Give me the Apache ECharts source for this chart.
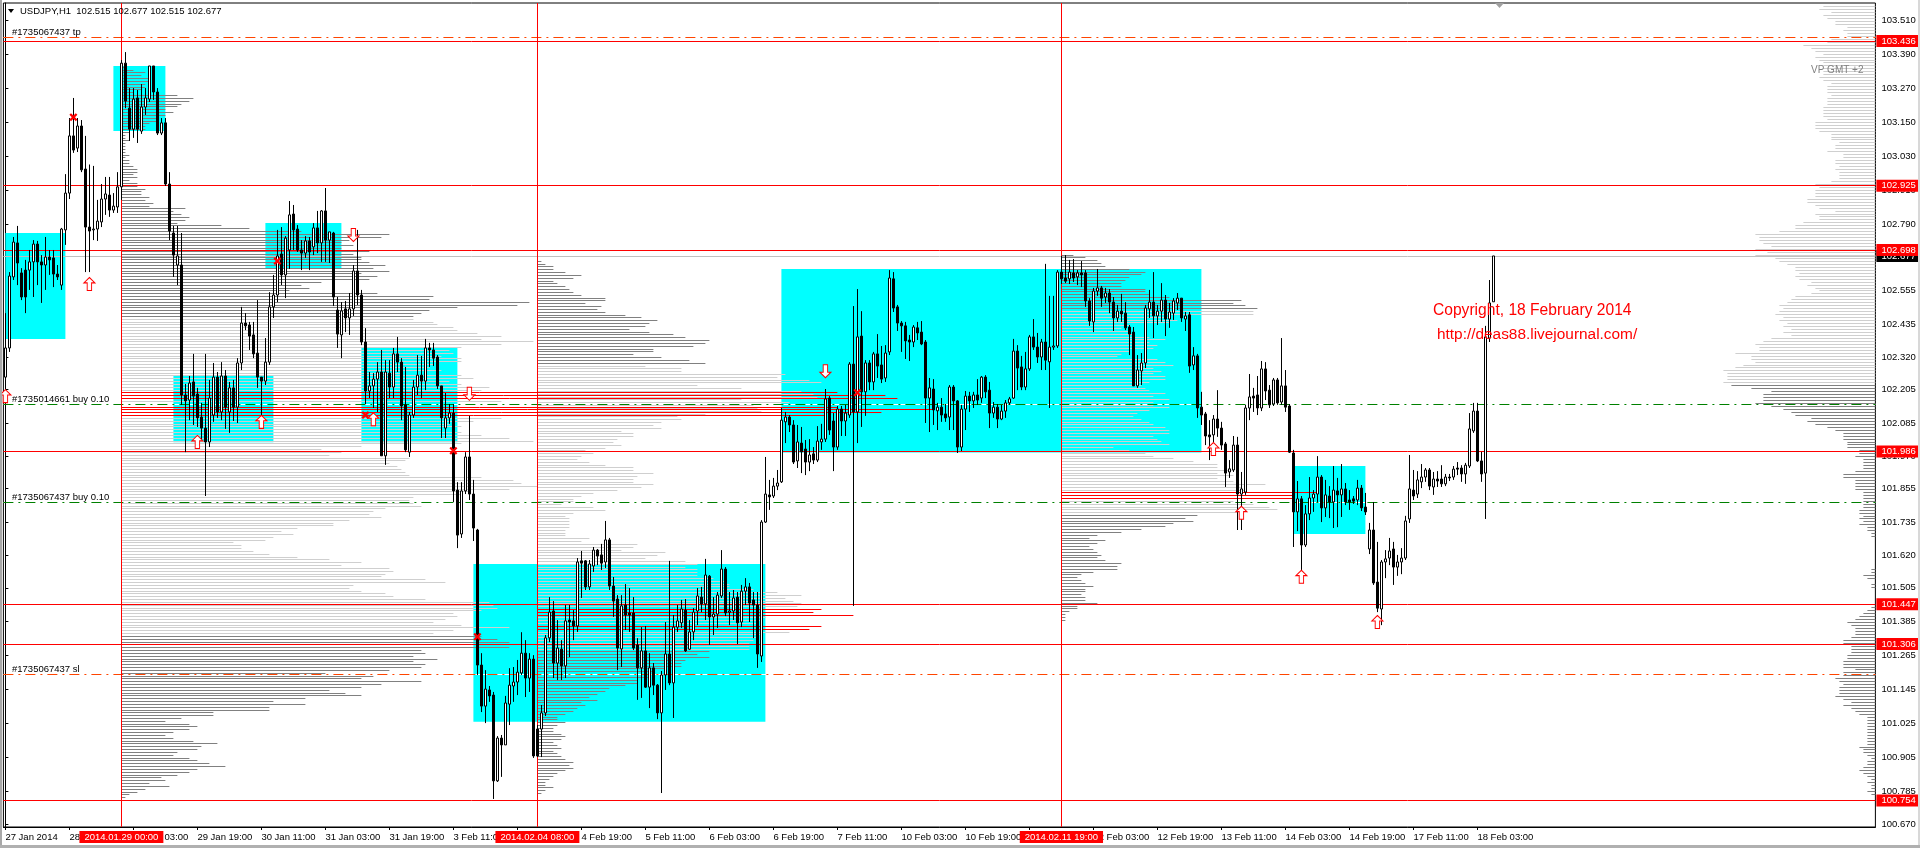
<!DOCTYPE html>
<html><head><meta charset="utf-8">
<style>html,body{margin:0;padding:0;background:#fff}#c{width:1920px;height:848px}</style>
<script src="https://cdn.jsdelivr.net/npm/echarts@6/dist/echarts.min.js"></script>
</head><body><div id="c"></div>
<script>
// Candle rows: [open, close, low, high]
const candlesA=[[102.249,102.352,102.186,102.475],[102.352,102.606,102.338,102.620],[102.603,102.726,102.592,102.744],[102.723,102.652,102.574,102.783],[102.617,102.532,102.521,102.634],[102.627,102.532,102.475,102.663],[102.627,102.656,102.557,102.698],[102.656,102.719,102.532,102.733],[102.719,102.656,102.574,102.730],[102.656,102.645,102.511,102.680],
[102.645,102.673,102.557,102.744],[102.673,102.663,102.610,102.698],[102.670,102.613,102.567,102.698],[102.613,102.603,102.592,102.645],[102.574,102.772,102.557,102.776],[102.769,102.899,102.716,102.966],[102.899,103.101,102.878,103.164],[103.101,103.051,103.041,103.235],[103.058,103.136,103.044,103.164],[103.136,102.981,102.973,103.157],
[102.984,102.779,102.620,103.101],[102.779,102.765,102.620,103.000],[102.769,102.772,102.733,102.995],[102.772,102.800,102.730,102.875],[102.797,102.878,102.779,102.931],[102.878,102.896,102.822,102.956],[102.892,102.839,102.815,102.956],[102.839,102.853,102.829,102.899],[102.850,102.921,102.829,102.973],[102.921,103.358,102.875,103.369],
[103.358,103.224,103.199,103.397],[103.199,103.125,103.083,103.270],[103.125,103.231,103.094,103.270],[103.235,103.125,103.076,103.263],[103.118,103.203,103.108,103.284],[103.203,103.235,103.175,103.270],[103.231,103.348,103.221,103.348],[103.348,103.256,103.228,103.348],[103.256,103.111,103.104,103.270],[103.111,103.147,103.104,103.164],
[103.147,102.931,102.924,103.164],[102.931,102.765,102.733,102.973],[102.758,102.680,102.603,102.783],[102.645,102.677,102.574,102.783],[102.645,102.186,102.151,102.758],[102.186,102.165,101.984,102.225],[102.168,102.228,102.097,102.253],[102.232,102.182,102.080,102.331],[102.189,102.105,102.073,102.211],[102.108,102.069,102.027,102.158]];
const candlesB=[[102.069,102.020,101.829,102.331],[102.020,102.175,102.002,102.239],[102.115,102.249,102.091,102.299],[102.249,102.126,102.105,102.267],[102.126,102.253,102.097,102.302],[102.253,102.143,102.066,102.274],[102.126,102.211,102.052,102.232],[102.211,102.143,102.094,102.239],[102.143,102.299,102.087,102.316],[102.299,102.440,102.274,102.497],
[102.440,102.430,102.415,102.475],[102.433,102.394,102.345,102.444],[102.398,102.331,102.316,102.444],[102.334,102.249,102.211,102.521],[102.249,102.235,102.115,102.249],[102.235,102.302,102.221,102.387],[102.302,102.497,102.292,102.549],[102.497,102.539,102.458,102.610],[102.539,102.677,102.514,102.769],[102.684,102.610,102.574,102.779],
[102.610,102.740,102.528,102.747],[102.698,102.822,102.631,102.871],[102.825,102.769,102.698,102.857],[102.772,102.698,102.691,102.786],[102.698,102.687,102.627,102.733],[102.687,102.730,102.670,102.747],[102.730,102.691,102.627,102.744],[102.709,102.776,102.680,102.793],[102.776,102.723,102.687,102.836],[102.723,102.836,102.656,102.839],
[102.836,102.733,102.656,102.917],[102.733,102.762,102.652,102.762],[102.758,102.532,102.500,102.762],[102.486,102.401,102.352,102.532],[102.398,102.483,102.316,102.514],[102.490,102.458,102.408,102.518],[102.458,102.490,102.398,102.546],[102.490,102.624,102.465,102.645],[102.624,102.539,102.504,102.769],[102.539,102.373,102.362,102.557],
[102.373,102.200,102.154,102.422],[102.200,102.218,102.175,102.267],[102.218,102.242,102.140,102.263],[102.242,102.267,102.126,102.302],[102.267,101.971,101.971,102.345],[101.971,102.267,101.939,102.309],[102.263,102.214,102.175,102.309],[102.214,102.331,102.175,102.352],[102.331,102.302,102.267,102.391],[102.302,102.147,102.097,102.316]];
const candlesC=[[102.151,101.992,101.984,102.285],[101.984,102.115,101.967,102.126],[102.115,102.214,102.105,102.239],[102.214,102.256,102.186,102.327],[102.256,102.235,102.175,102.324],[102.235,102.352,102.203,102.384],[102.352,102.345,102.285,102.370],[102.345,102.316,102.288,102.370],[102.320,102.218,102.207,102.327],[102.218,102.105,102.034,102.218],
[102.069,102.105,102.034,102.193],[102.105,102.122,102.084,102.154],[102.122,101.847,101.808,102.154],[101.850,101.691,101.645,101.878],[101.695,101.847,101.681,101.878],[101.847,101.967,101.836,101.984],[101.967,101.836,101.815,102.112],[101.836,101.716,101.670,101.886],[101.709,101.232,101.197,101.713],[101.232,101.087,101.066,101.274],
[101.087,101.147,101.027,101.214],[101.144,101.123,101.102,101.158],[101.126,100.823,100.759,101.137],[100.823,100.974,100.819,100.981],[100.974,100.950,100.837,100.985],[100.950,101.098,100.950,101.123],[101.094,101.161,101.020,101.221],[101.158,101.172,101.102,101.225],[101.172,101.207,101.126,101.250],[101.204,101.274,101.197,101.348],
[101.274,101.186,101.119,101.320],[101.186,101.253,101.137,101.274],[101.253,100.911,100.904,101.267],[101.006,100.911,100.907,101.020],[101.006,101.063,100.907,101.091],[101.063,101.328,101.052,101.338],[101.328,101.419,101.313,101.472],[101.423,101.239,101.186,101.458],[101.239,101.292,101.179,101.391],[101.288,101.229,101.179,101.320],
[101.229,101.388,101.186,101.444],[101.391,101.384,101.260,101.444],[101.388,101.370,101.320,101.426],[101.370,101.596,101.349,101.610],[101.600,101.592,101.469,101.635],[101.600,101.508,101.497,101.603],[101.508,101.589,101.497,101.603],[101.582,101.638,101.561,101.649],[101.638,101.617,101.585,101.642],[101.621,101.592,101.568,101.660]];
const candlesD=[[101.596,101.674,101.575,101.741],[101.674,101.511,101.497,101.681],[101.511,101.458,101.402,101.543],[101.465,101.292,101.214,101.479],[101.289,101.441,101.225,101.479],[101.444,101.409,101.356,101.518],[101.416,101.409,101.349,101.504],[101.416,101.292,101.285,101.472],[101.303,101.222,101.109,101.327],[101.222,101.282,101.116,101.366],
[101.282,101.154,101.151,101.370],[101.154,101.222,101.080,101.274],[101.222,101.161,101.126,101.239],[101.161,101.063,101.041,101.165],[101.063,101.197,100.780,101.211],[101.197,101.271,101.144,101.384],[101.271,101.169,101.161,101.600],[101.169,101.366,101.045,101.409],[101.366,101.388,101.349,101.444],[101.381,101.430,101.363,101.462],
[101.426,101.282,101.278,101.465],[101.288,101.349,101.285,101.391],[101.349,101.419,101.320,101.433],[101.423,101.476,101.373,101.504],[101.472,101.448,101.419,101.508],[101.448,101.550,101.391,101.607],[101.546,101.402,101.303,101.550],[101.402,101.412,101.338,101.472],[101.412,101.479,101.363,101.490],[101.476,101.571,101.469,101.638],
[101.571,101.416,101.405,101.578],[101.419,101.423,101.373,101.490],[101.423,101.469,101.391,101.497],[101.472,101.381,101.306,101.490],[101.384,101.493,101.366,101.515],[101.493,101.508,101.444,101.539],[101.508,101.451,101.384,101.522],[101.462,101.444,101.327,101.490],[101.444,101.271,101.222,101.490],[101.264,101.737,101.243,101.744],
[101.737,101.836,101.734,101.967],[101.833,101.826,101.780,101.886],[101.829,101.864,101.822,101.893],[101.864,101.875,101.850,101.921],[101.879,102.097,101.875,102.140],[102.091,102.108,102.016,102.126],[102.108,102.080,102.055,102.115],[102.080,101.949,101.942,102.097],[101.953,102.020,101.928,102.080],[102.016,101.985,101.910,102.073]];
const candlesE=[[101.995,101.949,101.903,102.027],[101.949,101.974,101.917,102.030],[101.978,101.956,101.942,102.002],[101.956,102.023,101.949,102.076],[102.020,102.030,101.992,102.084],[102.030,102.172,102.020,102.207],[102.175,102.062,102.045,102.182],[102.094,102.002,101.917,102.122],[102.002,102.136,101.992,102.147],[102.136,102.094,102.041,102.147],
[102.094,102.122,102.041,102.151],[102.115,102.295,102.105,102.302],[102.295,102.126,101.441,102.500],[102.126,102.391,102.016,102.560],[102.394,102.197,102.073,102.482],[102.197,102.299,102.112,102.309],[102.299,102.232,102.203,102.309],[102.232,102.331,102.203,102.338],[102.331,102.288,102.246,102.401],[102.292,102.242,102.228,102.359],
[102.246,102.334,102.232,102.362],[102.338,102.599,102.327,102.627],[102.596,102.493,102.479,102.620],[102.497,102.440,102.412,102.504],[102.440,102.430,102.338,102.447],[102.430,102.377,102.313,102.444],[102.380,102.373,102.306,102.398],[102.373,102.426,102.355,102.433],[102.423,102.405,102.380,102.444],[102.408,102.366,102.362,102.447],
[102.373,102.175,102.087,102.380],[102.175,102.211,102.055,102.246],[102.207,102.133,102.080,102.242],[102.130,102.143,102.062,102.158],[102.143,102.115,102.091,102.175],[102.119,102.105,102.091,102.154],[102.108,102.214,102.062,102.221],[102.214,102.165,102.062,102.221],[102.165,102.002,101.981,102.168],[102.002,102.136,101.988,102.151],
[102.136,102.182,102.062,102.200],[102.182,102.165,102.126,102.197],[102.165,102.186,102.140,102.197],[102.186,102.168,102.151,102.242],[102.175,102.249,102.158,102.253],[102.249,102.197,102.175,102.256],[102.203,102.122,102.069,102.232],[102.122,102.143,102.105,102.161],[102.143,102.101,102.069,102.154],[102.101,102.129,102.097,102.151]];
const candlesF=[[102.129,102.158,102.105,102.168],[102.158,102.172,102.151,102.179],[102.175,102.341,102.172,102.384],[102.341,102.281,102.203,102.362],[102.285,102.214,102.203,102.324],[102.214,102.278,102.203,102.338],[102.278,102.391,102.271,102.398],[102.391,102.355,102.345,102.454],[102.355,102.320,102.299,102.405],[102.320,102.373,102.274,102.384],
[102.373,102.309,102.274,102.649],[102.303,102.355,102.140,102.536],[102.355,102.359,102.345,102.536],[102.359,102.620,102.352,102.627],[102.620,102.596,102.578,102.677],[102.599,102.588,102.581,102.680],[102.596,102.620,102.578,102.663],[102.617,102.599,102.585,102.666],[102.603,102.617,102.574,102.627],[102.617,102.610,102.567,102.659],
[102.617,102.518,102.497,102.627],[102.518,102.447,102.430,102.528],[102.444,102.553,102.408,102.564],[102.553,102.564,102.536,102.631],[102.564,102.528,102.497,102.571],[102.532,102.546,102.511,102.564],[102.546,102.514,102.475,102.560],[102.514,102.458,102.412,102.532],[102.458,102.482,102.444,102.504],[102.482,102.472,102.444,102.543],
[102.475,102.423,102.415,102.514],[102.426,102.401,102.327,102.433],[102.408,102.218,102.218,102.426],[102.218,102.274,102.211,102.327],[102.271,102.299,102.221,102.334],[102.299,102.493,102.281,102.504],[102.490,102.514,102.458,102.557],[102.514,102.465,102.387,102.620],[102.465,102.482,102.433,102.504],[102.482,102.521,102.444,102.581],
[102.521,102.454,102.394,102.539],[102.454,102.479,102.423,102.511],[102.475,102.518,102.451,102.528],[102.511,102.528,102.486,102.546],[102.528,102.458,102.444,102.528],[102.454,102.465,102.412,102.479],[102.469,102.288,102.264,102.479],[102.292,102.324,102.274,102.355],[102.324,102.140,102.105,102.331],[102.143,102.115,102.080,102.197]];
const candlesG=[[102.119,102.041,102.009,102.126],[102.045,102.038,101.956,102.097],[102.045,102.101,102.009,102.115],[102.101,102.069,102.038,102.203],[102.069,102.009,101.992,102.091],[102.013,101.910,101.861,102.020],[101.914,101.925,101.893,101.956],[101.921,102.009,101.914,102.041],[102.009,101.836,101.709,102.038],[101.836,101.854,101.709,101.914],
[101.843,102.140,101.833,102.151],[102.140,102.179,102.097,102.260],[102.182,102.175,102.126,102.211],[102.186,102.140,102.115,102.253],[102.140,102.278,102.129,102.306],[102.278,102.200,102.168,102.302],[102.203,102.151,102.140,102.221],[102.154,102.239,102.147,102.246],[102.239,102.158,102.151,102.246],[102.161,102.218,102.151,102.387],
[102.218,102.143,102.126,102.274],[102.147,101.984,101.981,102.154],[101.981,101.773,101.649,101.992],[101.773,101.819,101.705,101.882],[101.819,101.656,101.557,101.829],[101.656,101.766,101.649,101.797],[101.766,101.822,101.744,101.896],[101.822,101.836,101.773,101.850],[101.836,101.896,101.808,101.970],[101.896,101.787,101.737,101.903],
[101.787,101.833,101.755,101.886],[101.829,101.808,101.751,101.864],[101.808,101.850,101.716,101.935],[101.847,101.833,101.719,101.893],[101.833,101.854,101.755,101.942],[101.854,101.808,101.797,101.875],[101.815,101.808,101.780,101.850],[101.819,101.811,101.801,101.829],[101.815,101.857,101.797,101.886],[101.857,101.787,101.776,101.868],
[101.790,101.773,101.762,101.840],[101.642,101.709,101.624,101.734],[101.709,101.522,101.515,101.808],[101.525,101.433,101.419,101.667],[101.430,101.596,101.373,101.603],[101.596,101.607,101.539,101.638],[101.610,101.635,101.585,101.681],[101.642,101.578,101.515,101.667],[101.578,101.596,101.547,101.621],[101.596,101.610,101.553,101.645]];
const candlesH=[[101.610,101.741,101.603,101.759],[101.748,101.854,101.734,101.974],[101.850,101.829,101.815,101.921],[101.836,101.886,101.822,101.917],[101.879,101.896,101.857,101.942],[101.896,101.921,101.879,101.928],[101.921,101.864,101.850,101.928],[101.861,101.889,101.833,101.914],[101.889,101.882,101.861,101.917],[101.889,101.872,101.861,101.938],
[101.872,101.896,101.864,101.907],[101.896,101.893,101.882,101.907],[101.896,101.924,101.886,101.935],[101.928,101.924,101.903,101.949],[101.928,101.907,101.879,101.938],[101.907,101.938,101.872,101.946],[101.935,102.066,101.928,102.122],[102.059,102.129,102.052,102.158],[102.129,101.953,101.949,102.158],[101.953,101.907,101.879,101.985],
[101.910,102.391,101.748,102.430],[102.387,102.511,102.373,102.592],[102.515,102.677,102.515,102.677]];

// Time labels every 16 bars
const timeLabels=['27 Jan 2014','28 Jan 11:00','29 Jan 03:00','29 Jan 19:00','30 Jan 11:00','31 Jan 03:00','31 Jan 19:00','3 Feb 11:00','4 Feb 03:00','4 Feb 19:00','5 Feb 11:00','6 Feb 03:00','6 Feb 19:00','7 Feb 11:00','10 Feb 03:00','10 Feb 19:00','11 Feb 11:00','12 Feb 03:00','12 Feb 19:00','13 Feb 11:00','14 Feb 03:00','14 Feb 19:00','17 Feb 11:00','18 Feb 03:00'];
const priceTicks=[103.51,103.39,103.27,103.15,103.03,102.91,102.79,102.67,102.555,102.435,102.32,102.205,102.085,101.97,101.855,101.735,101.62,101.505,101.385,101.265,101.145,101.025,100.905,100.785,100.67];
const priceMax=103.5704, priceMin=100.660;
const barSlots=468, tickEvery=16, lastTickBar=368;

const redLevels=[103.436,102.925,102.698,101.986,101.447,101.306,100.754];
const currentPrice=102.677;
const sessionBars=[29,133,264];
const sessionLabels=['2014.01.29 00:00','2014.02.04 08:00','2014.02.11 19:00'];
const orderTP=[103.449], orderSL=[101.199], orderBuy=[102.153,101.807];

// Rectangles: [barStart, barEnd, priceHigh, priceLow]
const zones=[[0,15,102.758,102.384],[27,40,103.348,103.118],[65,84,102.793,102.631],[42,67,102.256,102.019],[89,113,102.352,102.019],[117,190,101.589,101.032],[194,299,102.631,101.983],[322,340,101.935,101.695]];

// Markers: [bar, price]
const arrowsUp=[[21,102.578],[0,102.182],[48,102.020],[64,102.091],[92,102.100],[302,101.995],[309,101.770],[324,101.544],[343,101.384]];
const arrowsDown=[[87,102.751],[116,102.190],[205,102.270]];
const crosses=[[17,103.167],[68,102.659],[90,102.115],[112,101.989],[118,101.332],[213,102.194]];

// Volume profiles: counts per price row, top row first
const profile1Anchor=29, profile1Top=103.345, profile1VA=[102.458,101.338], profile1Poc=[115,116,117,120,121,122,123];
const profile1=[1,3,6,5,7,7,6,6,5,3,14,18,17,15,14,11,13,11,9,9,7,6,6,2,1,1,2,1,1,1,1,2,1,2,2,3,4,4,3,4,2,4,4,6,5,5,7,6,8,7,16,13,15,17,16,14,25,32,45,67,65,57,55,58,55,62,58,60,60,62,66,63,67,60,64,62,
50,45,47,42,64,78,77,102,99,84,77,75,73,73,78,79,83,84,89,95,90,103,95,85,82,83,80,85,85,78,77,80,70,85,88,82,85,92,90,179,191,194,95,100,179,203,190,176,95,88,82,85,80,85,90,97,103,85,60,50,55,52,72,71,67,69,70,71,72,90,98,100,104,97,87,85,73,72,73,75,66,63,62,65,57,53,53,44,40,43,38,36,28,30,30,33,37,44,
52,60,55,67,68,66,65,76,81,58,57,60,66,68,76,92,93,94,90,83,84,81,78,85,97,83,78,90,94,97,97,97,75,76,73,79,73,76,75,67,51,63,60,75,65,60,52,56,60,46,38,46,37,37,23,23,15,11,17,19,17,13,11,13,18,24,20,19,14,13,17,19,22,26,19,17,14,10,11,7,12,6,4,2,1];
const profile2Anchor=133, profile2Top=102.660, profile2VA=[102.295,101.285], profile2Poc=[123,124,125,129,130];
const profile2=[1,2,4,4,7,11,9,4,5,7,8,9,11,17,17,12,16,15,17,22,26,30,28,27,23,28,34,37,43,42,39,29,29,24,31,38,42,
27,36,36,62,60,68,71,40,51,66,69,70,51,63,54,55,56,42,35,36,31,29,31,21,24,24,20,19,21,17,12,14,11,10,13,17,24,24,29,25,24,24,29,26,
20,14,11,9,9,6,14,17,9,7,8,8,8,8,7,7,7,13,11,25,24,21,32,30,27,37,40,37,40,40,40,44,47,48,48,54,60,66,62,64,66,65,
71,69,79,57,56,55,71,68,63,56,55,54,53,53,53,
43,40,43,37,36,36,32,29,27,28,25,25,22,18,17,15,13,15,11,12,10,9,7,5,5,7,5,4,4,6,7,6,4,5,6,4,5,6,7,9,8,9,7,5,4,3,2,2,4,2,1];
const profile3Anchor=264, profile3Top=102.682, profile3VA=[102.486,101.767], profile3Poc=[84,85,86];
const profile3=[3,6,9,10,11,17,21,20,17,16,15,15,21,21,22,27,45,43,46,49,
48,48,27,29,27,17,15,17,18,22,26,22,24,23,17,15,14,24,26,28,23,25,23,26,26,22,20,21,22,26,23,27,23,23,27,22,19,18,20,22,23,26,27,27,23,24,25,27,13,17,21,23,28,33,39,39,43,39,43,39,43,51,45,46,
64,58,58,43,48,52,54,44,
34,31,33,28,26,20,15,9,7,11,9,7,8,9,10,9,11,15,14,14,8,5,4,5,6,8,6,6,5,6,6,9,4,4,2,1,1,1];
const profile4Top=103.559, profile4Bottom=100.777, profile4VA=[104,102.228];
const profile4=[13,14,11,13,12,10,10,7,8,7,7,11,12,18,16,15,13,15,14,13,13,13,13,13,14,13,11,12,12,12,11,12,12,12,13,13,13,13,12,15,15,15,14,11,11,11,9,10,10,12,8,8,10,10,9,10,9,9,9,11,15,14,15,15,15,17,17,15,14,10,15,14,14,18,20,20,24,30,29,29,28,26,30,27,30,25,24,22,20,20,19,20,19,16,17,15,14,16,20,21,22,24,23,24,25,23,24,22,23,21,23,21,26,28,30,29,29,35,31,31,30,33,35,38,37,37,37,38,36,31,26,28,28,28,30,26,23,21,
20,16,17,15,12,10,8,8,8,7,7,7,4,4,5,3,3,3,3,5,8,8,5,5,5,5,3,3,3,3,3,3,4,4,3,4,3,4,2,2,1,1,0,0,0,0,0,0,0,0,0,0,1,1,3,2,0,1,1,0,0,0,0,0,0,1,2,3,4,5,7,6,5,5,5,6,8,8,6,6,6,7,7,8,8,8,5,8,8,10,9,8,9,9,9,10,8,6,8,6,5,4,2,2,2,2,2,2,2,2,2,2,4,3,3,2,1,2,2,3,4,3,2,1,2,1,1,2,1];

const FONT='"Liberation Sans",Arial,sans-serif';
const GRID={left:3.4,top:3,width:1872,height:824};
const STEP=0.01;
const candles=[].concat(candlesA,candlesB,candlesC,candlesD,candlesE,candlesF,candlesG,candlesH);
const categories=Array.from({length:barSlots},(_,i)=>i%tickEvery===0&&i/tickEvery<timeLabels.length?timeLabels[i/tickEvery]:'');
const showTick=i=>i%tickEvery===0&&i<=lastTickBar;

const DARK=0,LIGHT=1,RED=2;
function profileRows(arr,anchor,top,step,va,poc,dir){
  return arr.map((n,k)=>{const p=top-k*step;
    const c=poc&&poc.indexOf(k)>=0?RED:(p<=va[0]&&p>=va[1]?LIGHT:DARK);
    return [anchor,dir*n,+p.toFixed(4),c];}).filter(r=>r[1]!==0);
}
const rows=[].concat(
  profileRows(profile1,profile1Anchor,profile1Top,STEP,profile1VA,profile1Poc,1),
  profileRows(profile2,profile2Anchor,profile2Top,STEP,profile2VA,profile2Poc,1),
  profileRows(profile3,profile3Anchor,profile3Top,STEP,profile3VA,profile3Poc,1),
  profileRows(profile4,barSlots-0.5,profile4Top,(profile4Top-profile4Bottom)/(profile4.length-1),profile4VA,null,-1)
);
const rowColor=['#808080','#cfcfcf','#ff0000'];

const axisTxt={fontFamily:FONT,fontSize:9.5,color:'#000'};
const labelBox={show:true,position:'end',distance:1,color:'#fff',backgroundColor:'#ff0000',fontFamily:FONT,fontSize:9.5,lineHeight:10,padding:[1,5,1,5],formatter:o=>Number(o.value).toFixed(3)};
const markLines=[];
orderTP.concat(orderSL,orderBuy).forEach(v=>markLines.push({yAxis:v,lineStyle:{color:'#ffffff',type:'solid',width:1},label:{show:false}}));
orderTP.concat(orderSL).forEach(v=>markLines.push({yAxis:v,lineStyle:{color:'#ff4500',type:[10,5,2,5],width:1},label:{show:false}}));
orderBuy.forEach(v=>markLines.push({yAxis:v,lineStyle:{color:'#008000',type:[10,5,2,5],width:1},label:{show:false}}));
markLines.push({yAxis:currentPrice,lineStyle:{color:'#c0c0c0',type:'solid',width:1},label:Object.assign({},labelBox,{backgroundColor:'#000'})});
redLevels.forEach(v=>markLines.push({yAxis:v,lineStyle:{color:'#ff0000',type:'solid',width:1},label:labelBox}));
sessionBars.forEach((b,i)=>markLines.push({xAxis:b,lineStyle:{color:'#ff0000',type:'solid',width:1},
  label:{show:true,position:'start',distance:4,formatter:sessionLabels[i],color:'#fff',backgroundColor:'#ff0000',fontFamily:FONT,fontSize:9.5,lineHeight:10,padding:[1,5,1,5]}}));

const txt=(x,y,s,extra)=>({type:'text',x,y,z:60,silent:true,style:Object.assign({text:s,fill:'#000',font:'9.5px '+FONT,textVerticalAlign:'middle'},extra||{})});

const chart=echarts.init(document.getElementById('c'),null,{renderer:'canvas'});
chart.setOption({
  animation:false,backgroundColor:'#ffffff',
  grid:{left:GRID.left,top:GRID.top,width:GRID.width,height:GRID.height,show:true,borderColor:'#000',borderWidth:1,backgroundColor:'transparent'},
  xAxis:[
    {type:'category',data:categories,boundaryGap:true,
     axisLine:{show:true,lineStyle:{color:'#000'}},splitLine:{show:false},
     axisTick:{show:true,alignWithLabel:true,interval:showTick,length:3,lineStyle:{color:'#000'}},
     axisLabel:Object.assign({show:true,interval:showTick,align:'left',margin:5,hideOverlap:false},axisTxt)},
    {type:'value',min:-0.5,max:barSlots-0.5,show:false,splitLine:{show:false}}
  ],
  yAxis:{type:'value',position:'right',min:priceMin,max:priceMax,scale:true,
    axisLine:{show:true,lineStyle:{color:'#000'}},splitLine:{show:false},
    axisTick:{show:true,length:3,customValues:priceTicks,lineStyle:{color:'#000'}},
    axisLabel:Object.assign({show:true,customValues:priceTicks,margin:6,formatter:v=>Number(v).toFixed(3)},axisTxt)},
  series:[
    {type:'custom',name:'Volume profile',xAxisIndex:1,yAxisIndex:0,z:2,clip:true,silent:true,data:rows,encode:{x:0,y:2},
     renderItem:(params,api)=>{
       const a=api.coord([api.value(0),api.value(2)]);
       const b=api.coord([api.value(0)+api.value(1),api.value(2)]);
       const y=Math.round(a[1])+0.5;
       return {type:'line',shape:{x1:a[0],y1:y,x2:b[0],y2:y},style:{stroke:rowColor[api.value(3)],lineWidth:1}};
     }},
    {type:'candlestick',name:'USDJPY,H1',xAxisIndex:0,yAxisIndex:0,z:10,barWidth:3,silent:true,data:candles,
     itemStyle:{color:'#ffffff',color0:'#000000',borderColor:'#000000',borderColor0:'#000000',borderColorDoji:'#000000',borderWidth:1},
     markArea:{silent:true,z:1,itemStyle:{color:'#00ffff',opacity:1},label:{show:false},
       data:zones.map(z=>[{xAxis:z[0],yAxis:z[2]},{xAxis:z[1],yAxis:z[3]}])},
     markLine:{silent:true,z:4,symbol:'none',precision:3,animation:false,data:markLines}},
    {type:'scatter',name:'Buy arrows',xAxisIndex:0,yAxisIndex:0,z:11,silent:true,data:arrowsUp,
     symbol:'path://M5 0 L10 5 L7 5 L7 12 L3 12 L3 5 L0 5 Z',symbolSize:[11,13],itemStyle:{color:'#fff',borderColor:'#ff0000',borderWidth:1,opacity:1}},
    {type:'scatter',name:'Sell arrows',xAxisIndex:0,yAxisIndex:0,z:11,silent:true,data:arrowsDown,
     symbol:'path://M3 0 L7 0 L7 7 L10 7 L5 12 L0 7 L3 7 Z',symbolSize:[11,13],itemStyle:{color:'#fff',borderColor:'#ff0000',borderWidth:1,opacity:1}},
    {type:'scatter',name:'Closes',xAxisIndex:0,yAxisIndex:0,z:11,silent:true,data:crosses,
     symbol:'path://M0 2 L2 0 L5 3 L8 0 L10 2 L7 5 L10 8 L8 10 L5 7 L2 10 L0 8 L3 5 Z',symbolSize:8,itemStyle:{color:'#ff0000',opacity:1}}
  ],
  graphic:[
    {type:'rect',shape:{x:0,y:0,width:2,height:848},z:60,silent:true,style:{fill:'#a8a8a8'}},
    {type:'rect',shape:{x:1918,y:0,width:2,height:848},z:60,silent:true,style:{fill:'#d8d8d8'}},
    {type:'rect',shape:{x:0,y:845,width:1920,height:3},z:60,silent:true,style:{fill:'#b0b0b0'}},
    {type:'polygon',shape:{points:[[8,9],[14,9],[11,13]]},z:60,silent:true,style:{fill:'#000'}},
    {type:'polygon',shape:{points:[[1495,3],[1504,3],[1499.5,8]]},z:60,silent:true,style:{fill:'#a0a0a0'}},
    txt(20,11,'USDJPY,H1  102.515 102.677 102.515 102.677'),
    txt(12,32,'#1735067437 tp'),
    txt(12,399,'#1735014661 buy 0.10'),
    txt(12,497,'#1735067437 buy 0.10'),
    txt(12,669,'#1735067437 sl'),
    txt(1811,70,'VP GMT +2',{fill:'#808080',font:'10px '+FONT}),
    txt(1433,311,'Copyright, 18 February 2014',{fill:'#ff0000',font:'15.6px '+FONT}),
    txt(1437,335,'http://deas88.livejournal.com/',{fill:'#ff0000',font:'15.4px '+FONT})
  ]
});
</script></body></html>
